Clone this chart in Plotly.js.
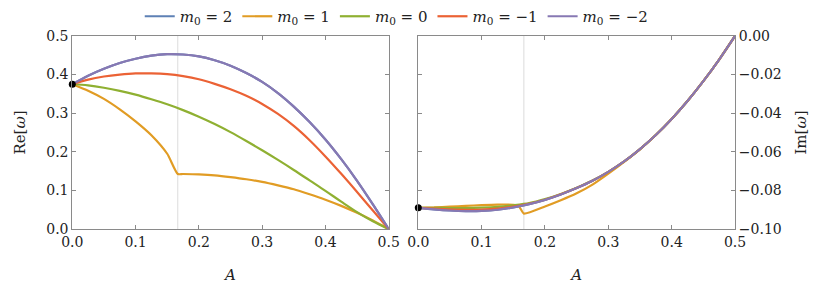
<!DOCTYPE html>
<html>
<head>
<meta charset="utf-8">
<script src="https://cdn.plot.ly/plotly-3.0.1.min.js"></script>
<style>html,body{margin:0;padding:0;background:#fff;}#chart{width:830px;height:304px;}</style>
</head>
<body>
<div id="chart"></div>
<script>
// ---- data ----
const A = [0, 0.025, 0.05, 0.075, 0.1, 0.125, 0.15, 0.175, 0.2, 0.225, 0.25, 0.275, 0.3, 0.325, 0.35, 0.375, 0.4, 0.425, 0.45, 0.475, 0.5];
const A_kink = [0, 0.025, 0.05, 0.075, 0.1, 0.125, 0.15, 0.1667, 0.175, 0.2, 0.225, 0.25, 0.275, 0.3, 0.325, 0.35, 0.375, 0.4, 0.425, 0.45, 0.475, 0.5];
const A_kinkIm = [0, 0.025, 0.05, 0.075, 0.1, 0.125, 0.15, 0.158, 0.1667, 0.2, 0.225, 0.25, 0.275, 0.3, 0.325, 0.35, 0.375, 0.4, 0.425, 0.45, 0.475, 0.5];

// Re[omega]
const re_m2  = [0.375, 0.397, 0.415, 0.430, 0.441, 0.449, 0.453, 0.452, 0.447, 0.437, 0.423, 0.404, 0.381, 0.352, 0.317, 0.277, 0.232, 0.181, 0.125, 0.064, 0.0];
const re_p2  = re_m2.slice();
const re_m1  = [0.375, 0.387, 0.395, 0.400, 0.403, 0.403, 0.401, 0.396, 0.388, 0.376, 0.362, 0.345, 0.324, 0.298, 0.267, 0.230, 0.188, 0.143, 0.096, 0.048, 0.0];
const re_0   = [0.375, 0.372, 0.366, 0.358, 0.348, 0.336, 0.323, 0.308, 0.291, 0.272, 0.251, 0.228, 0.204, 0.179, 0.153, 0.126, 0.099, 0.071, 0.044, 0.020, 0.0];
const re_p1  = [0.375, 0.358, 0.337, 0.310, 0.279, 0.243, 0.195, 0.1426, 0.1425, 0.1415, 0.139, 0.1345, 0.129, 0.122, 0.113, 0.103, 0.090, 0.076, 0.060, 0.042, 0.022, 0.0];

// Im[omega]
const im_m2  = [-0.0890, -0.0898, -0.0904, -0.0907, -0.0906, -0.0900, -0.0888, -0.0871, -0.0849, -0.0821, -0.0788, -0.0750, -0.0704, -0.0650, -0.0586, -0.0513, -0.0430, -0.0337, -0.0234, -0.0122, 0.0];
const im_p2  = im_m2.slice();
const im_m1  = [-0.0890, -0.0894, -0.0898, -0.0900, -0.0899, -0.0894, -0.0884, -0.0869, -0.0848, -0.0820, -0.0788, -0.0750, -0.0704, -0.0650, -0.0586, -0.0513, -0.0430, -0.0337, -0.0234, -0.0122, 0.0];
const im_0   = [-0.0890, -0.0890, -0.0891, -0.0891, -0.0889, -0.0885, -0.0877, -0.0866, -0.0845, -0.0818, -0.0786, -0.0749, -0.0704, -0.0650, -0.0586, -0.0513, -0.0430, -0.0337, -0.0234, -0.0122, 0.0];
const im_p1  = [-0.0890, -0.0888, -0.0884, -0.0880, -0.0876, -0.0873, -0.0874, -0.0878, -0.0920, -0.0883, -0.0851, -0.0815, -0.0770, -0.0713, -0.0652, -0.0587, -0.0513, -0.0430, -0.0337, -0.0234, -0.0122, 0.0];

const startA = [0];
const startRe = [0.375];
const startIm = [-0.089];
const critA = 1/6;

const labels = ['<i>m</i><sub>0</sub> = 2', '<i>m</i><sub>0</sub> = 1', '<i>m</i><sub>0</sub> = 0', '<i>m</i><sub>0</sub> = −1', '<i>m</i><sub>0</sub> = −2'];
const colors = ['#5E81B5', '#E19C24', '#8FB032', '#EB6235', '#8778B3'];

const xRe = [A, A_kink, A, A, A];
const yRe = [re_p2, re_p1, re_0, re_m1, re_m2];
const xIm = [A, A_kinkIm, A, A, A];
const yIm = [im_p2, im_p1, im_0, im_m1, im_m2];
const smooth = [1, 0.6, 1, 1, 1];

const traces = [];
for (let i = 0; i < 5; i++) {
  traces.push({x: xRe[i], y: yRe[i], type: 'scatter', mode: 'lines', name: labels[i], legendgroup: 'g' + i,
    line: {color: colors[i], width: 2.2, shape: 'spline', smoothing: smooth[i]}, xaxis: 'x', yaxis: 'y'});
}
for (let i = 0; i < 5; i++) {
  traces.push({x: xIm[i], y: yIm[i], type: 'scatter', mode: 'lines', name: labels[i], legendgroup: 'g' + i, showlegend: false,
    line: {color: colors[i], width: 2.2, shape: 'spline', smoothing: smooth[i] * 0.8}, xaxis: 'x2', yaxis: 'y2'});
}
traces.push({x: startA, y: startRe, type: 'scatter', mode: 'markers', marker: {color: '#000', size: 7}, showlegend: false, xaxis: 'x', yaxis: 'y', cliponaxis: false});
traces.push({x: startA, y: startIm, type: 'scatter', mode: 'markers', marker: {color: '#000', size: 7}, showlegend: false, xaxis: 'x2', yaxis: 'y2', cliponaxis: false});

const FONT = 'DejaVu Serif';
const axBase = {
  showline: true, linecolor: '#8a8a8a', linewidth: 1, mirror: 'ticks',
  ticks: 'inside', ticklen: 4, tickcolor: '#8a8a8a', tickwidth: 1,
  showgrid: false, zeroline: false,
  tickfont: {family: FONT, size: 14, color: '#222'}
};
const xBase = Object.assign({}, axBase, {range: [0, 0.5], tickvals: [0, 0.1, 0.2, 0.3, 0.4, 0.5], tickformat: '.1f',
  title: {text: '<i>A</i>', font: {family: FONT, size: 15, color: '#222'}, standoff: 20}});

const layout = {
  width: 830, height: 304,
  font: {family: FONT, size: 14, color: '#222'},
  margin: {l: 0, r: 0, t: 0, b: 0},
  paper_bgcolor: '#fff', plot_bgcolor: '#fff',
  showlegend: true,
  legend: {orientation: 'h', x: 0.478, xanchor: 'center', y: 1.01, yanchor: 'top',
    font: {family: FONT, size: 15, color: '#222'}, itemwidth: 30, tracegroupgap: 0},
  xaxis: Object.assign({}, xBase, {domain: [72.3/830, 388.7/830], anchor: 'y'}),
  yaxis: Object.assign({}, axBase, {domain: [(304-228.3)/304, (304-33.3)/304], anchor: 'x', range: [0, 0.5],
    tickvals: [0, 0.1, 0.2, 0.3, 0.4, 0.5], tickformat: '.1f',
    title: {text: 'Re[<i>ω</i>]', font: {family: FONT, size: 15, color: '#222'}, standoff: 16}}),
  xaxis2: Object.assign({}, xBase, {domain: [418.3/830, 735/830], anchor: 'y2'}),
  yaxis2: Object.assign({}, axBase, {domain: [(304-228.3)/304, (304-33.3)/304], anchor: 'x2', side: 'right', range: [-0.1, 0],
    tickvals: [-0.1, -0.08, -0.06, -0.04, -0.02, 0], tickformat: '.2f',
    title: {text: 'Im[<i>ω</i>]', font: {family: FONT, size: 15, color: '#222'}, standoff: 14}}),
  shapes: [
    {type: 'line', xref: 'x', yref: 'y domain', x0: critA, x1: critA, y0: 0, y1: 1, line: {color: '#dcdcdc', width: 1}, layer: 'below'},
    {type: 'line', xref: 'x2', yref: 'y2 domain', x0: critA, x1: critA, y0: 0, y1: 1, line: {color: '#dcdcdc', width: 1}, layer: 'below'}
  ]
};

Plotly.newPlot('chart', traces, layout, {staticPlot: true, displayModeBar: false});
</script>
</body>
</html>
